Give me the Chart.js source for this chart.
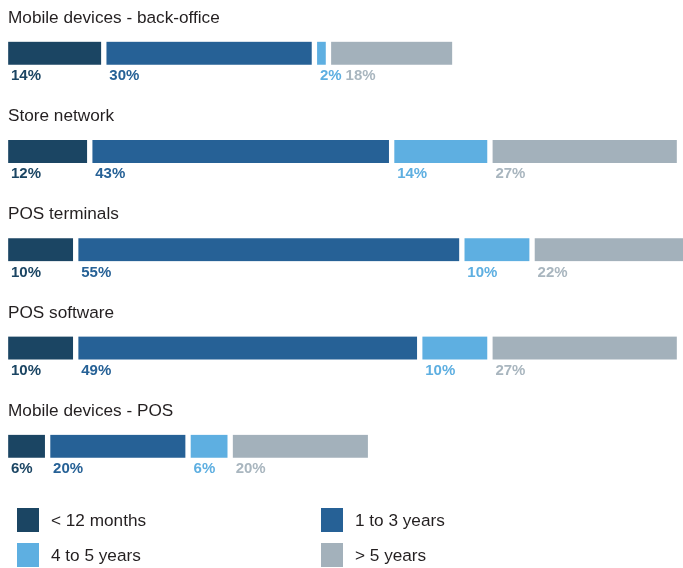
<!DOCTYPE html>
<html>
<head>
<meta charset="utf-8">
<script src="https://cdn.jsdelivr.net/npm/chart.js@4"></script>
<style>
  html, body { margin: 0; padding: 0; background: #fff; }
  #wrap { position: relative; width: 683px; height: 568px; overflow: hidden; }
  #legend { position: absolute; left: 0; top: 0; width: 683px; height: 568px; pointer-events: none;
            font-family: "Liberation Sans", Arial, sans-serif; font-size: 17.2px; color: #231f20; }
  .item { position: absolute; height: 24px; line-height: 24px; white-space: nowrap; }
  .item i { position: absolute; left: 0; top: 0; width: 22px; height: 24px; }
  .item span { position: absolute; left: 34px; top: 0; }
</style>
</head>
<body>
<div id="wrap">
  <canvas id="chart"></canvas>
  <div id="legend"></div>
</div>
<script>
// 導入時期の内訳（%）
const categories = [
  "Mobile devices - back-office",
  "Store network",
  "POS terminals",
  "POS software",
  "Mobile devices - POS"
];
const seriesNames = ["< 12 months", "1 to 3 years", "4 to 5 years", "> 5 years"];
const under12m  = [14, 12, 10, 10, 6];
const oneTo3y   = [30, 43, 55, 49, 20];
const fourTo5y  = [2, 14, 10, 10, 6];
const over5y    = [18, 27, 22, 27, 20];

const barColors   = ["#1b4563", "#266196", "#5eafe1", "#a3b1bb"];
const labelColors = ["#1b4563", "#266196", "#5eafe1", "#a9b6bf"];

const GAP = 3;      // 区切りの白線（片側）
const BAR_H = 23;

// カテゴリ名（上）と％（下）を描く
const annotate = {
  id: "annotate",
  afterDatasetsDraw(chart) {
    const ctx = chart.ctx;
    const yScale = chart.scales.y;
    ctx.save();
    categories.forEach((name, i) => {
      const yc = yScale.getPixelForValue(i);
      const top = yc - BAR_H / 2;
      const bottom = yc + BAR_H / 2;

      ctx.font = "17.2px 'Liberation Sans', Arial, sans-serif";
      ctx.fillStyle = "#231f20";
      ctx.textBaseline = "alphabetic";
      ctx.textAlign = "left";
      ctx.fillText(name, 8, top - 19);

      ctx.font = "bold 15px 'Liberation Sans', Arial, sans-serif";
      let prevEnd = -Infinity;
      chart.data.datasets.forEach((ds, d) => {
        const el = chart.getDatasetMeta(d).data[i];
        const start = Math.min(el.base, el.x) + GAP;
        const txt = ds.data[i] + "%";
        const x = Math.max(start + 2.5, prevEnd + 4);
        ctx.fillStyle = labelColors[d];
        ctx.fillText(txt, x, bottom + 15.5);
        prevEnd = x + ctx.measureText(txt).width;
      });
    });
    ctx.restore();
  }
};

const values = [under12m, oneTo3y, fourTo5y, over5y];

new Chart(document.getElementById("chart"), {
  type: "bar",
  data: {
    labels: categories,
    datasets: values.map((v, d) => ({
      label: seriesNames[d],
      data: v,
      backgroundColor: barColors[d],
      borderColor: "#ffffff",
      borderWidth: { left: GAP, right: GAP, top: 0, bottom: 0 },
      borderSkipped: false,
      barThickness: BAR_H
    }))
  },
  options: {
    indexAxis: "y",
    responsive: true,
    maintainAspectRatio: false,
    animation: false,
    layout: { padding: { left: 5.5, right: 0, top: 4, bottom: 72.5 } },
    scales: {
      x: { stacked: true, min: 0, max: 96.5, display: false },
      y: { stacked: true, display: false }
    },
    plugins: {
      legend: { display: false },
      tooltip: { enabled: false }
    }
  },
  plugins: [annotate]
});

document.getElementById("chart").parentNode.style.height = "568px";

// 凡例（2列）
const legendPos = [[17, 507.5], [321, 507.5], [17, 543], [321, 543]];
const legend = document.getElementById("legend");
seriesNames.forEach((name, d) => {
  const it = document.createElement("div");
  it.className = "item";
  it.style.left = legendPos[d][0] + "px";
  it.style.top = legendPos[d][1] + "px";
  it.innerHTML = `<i style="background:${barColors[d]}"></i><span></span>`;
  it.querySelector("span").textContent = name;
  legend.appendChild(it);
});
</script>
</body>
</html>
